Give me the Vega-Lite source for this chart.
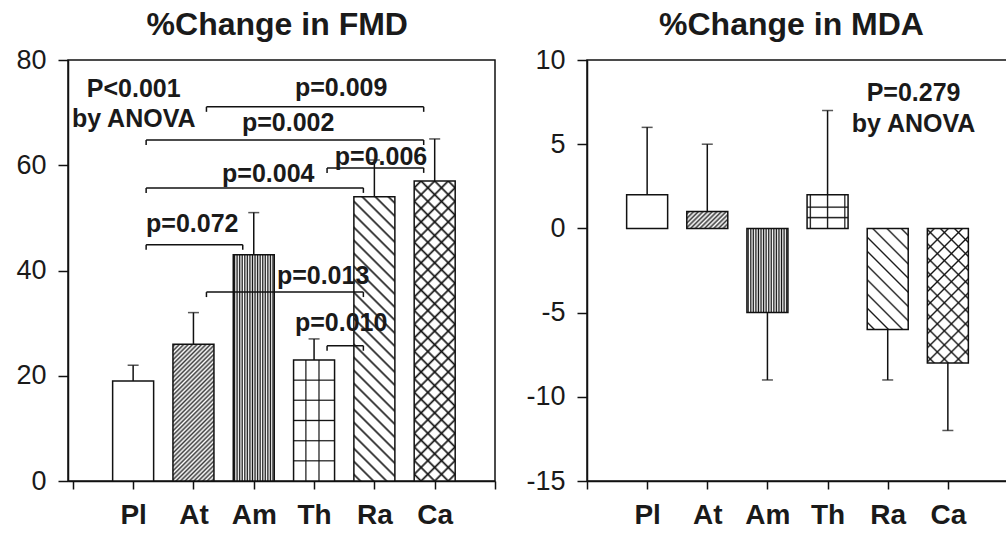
{
"$schema": "https://vega.github.io/schema/vega-lite/v6.json",
"autosize": {"type": "none"},
"padding": {"left": 68, "top": 60, "right": 938, "bottom": 473},
"bounds": "flush",
"spacing": 92,
"datasets": {
"fmd": [{"g":"Pl","pos":1,"v":19,"err":22},{"g":"At","pos":2,"v":26,"err":32},{"g":"Am","pos":3,"v":43,"err":51},{"g":"Th","pos":4,"v":23,"err":27},{"g":"Ra","pos":5,"v":54,"err":61},{"g":"Ca","pos":6,"v":57,"err":65}],
"mda": [{"g":"Pl","pos":1,"v":2,"err":6},{"g":"At","pos":2,"v":1,"err":5},{"g":"Am","pos":3,"v":-5,"err":-9},{"g":"Th","pos":4,"v":2,"err":7},{"g":"Ra","pos":5,"v":-6,"err":-9},{"g":"Ca","pos":6,"v":-8,"err":-12}],
"brk": [{"a":2,"b":6,"y":71.1,"label":"p=0.009","tx":4.45,"ty":73.2},{"a":1,"b":6,"y":64.8,"label":"p=0.002","tx":3.57,"ty":66.5},{"a":4,"b":6,"y":59.5,"label":"p=0.006","tx":5.11,"ty":60.1},{"a":1,"b":5,"y":55.7,"label":"p=0.004","tx":3.24,"ty":56.8},{"a":1,"b":3,"y":44.9,"label":"p=0.072","tx":1.98,"ty":47.3},{"a":2,"b":5,"y":35.9,"label":"p=0.013","tx":4.15,"ty":37.5},{"a":4,"b":5,"y":25.7,"label":"p=0.010","tx":4.45,"ty":28.5}],
"ann": [{"panel":"L","tx":1.01,"ty":73.0,"label":"P<0.001"},{"panel":"L","tx":1.01,"ty":67.3,"label":"by ANOVA"},{"panel":"R","tx":5.43,"ty":7.57,"label":"P=0.279"},{"panel":"R","tx":5.43,"ty":5.72,"label":"by ANOVA"}],
"ttl": [{"panel":"L","tx":3.39,"ty":84.75,"label":"%Change in FMD"},{"panel":"R","tx":3.4,"ty":11.48,"label":"%Change in MDA"}]
},
"hconcat": [
{
"width": 427, "height": 421,
"encoding": {
"x": {"field": "pos", "type": "quantitative", "scale": {"domain": [-0.08, 7], "nice": false, "zero": false}, "axis": {"title": null, "values": [0,1,2,3,4,5,6,7], "labelExpr": "datum.value==1?'Pl':datum.value==2?'At':datum.value==3?'Am':datum.value==4?'Th':datum.value==5?'Ra':datum.value==6?'Ca':''", "labelFontSize": 28, "labelFontWeight": "bold", "tickSize": 8, "labelPadding": 12, "labelFlush": false, "labelOverlap": false}},
"y": {"field": "v", "type": "quantitative", "scale": {"domain": [0, 80], "nice": false}, "axis": {"title": null, "values": [0,20,40,60,80], "labelFontSize": 27, "tickSize": 10, "labelPadding": 12}}
},
"layer": [
{"data": {"name": "fmd"}, "mark": {"type": "bar", "orient": "vertical", "width": 41, "fill": "white"}},
{"data": {"name": "fmd"}, "transform": [{"filter": "datum.g=='At'"}], "mark": {"type": "bar", "orient": "vertical", "width": 41, "fill": {"gradient": "linear", "x1": 0, "y1": 0, "x2": 0.357, "y2": 1.192, "stops": [
{"offset":0,"color":"rgba(60,60,60,0)"},{"offset":0.0125,"color":"#3c3c3c"},{"offset":0.025,"color":"rgba(60,60,60,0)"},{"offset":0.0375,"color":"#3c3c3c"},{"offset":0.05,"color":"rgba(60,60,60,0)"},{"offset":0.0625,"color":"#3c3c3c"},{"offset":0.075,"color":"rgba(60,60,60,0)"},{"offset":0.0875,"color":"#3c3c3c"},{"offset":0.1,"color":"rgba(60,60,60,0)"},{"offset":0.1125,"color":"#3c3c3c"},{"offset":0.125,"color":"rgba(60,60,60,0)"},{"offset":0.1375,"color":"#3c3c3c"},{"offset":0.15,"color":"rgba(60,60,60,0)"},{"offset":0.1625,"color":"#3c3c3c"},{"offset":0.175,"color":"rgba(60,60,60,0)"},{"offset":0.1875,"color":"#3c3c3c"},{"offset":0.2,"color":"rgba(60,60,60,0)"},{"offset":0.2125,"color":"#3c3c3c"},{"offset":0.225,"color":"rgba(60,60,60,0)"},{"offset":0.2375,"color":"#3c3c3c"},{"offset":0.25,"color":"rgba(60,60,60,0)"},{"offset":0.2625,"color":"#3c3c3c"},{"offset":0.275,"color":"rgba(60,60,60,0)"},{"offset":0.2875,"color":"#3c3c3c"},{"offset":0.3,"color":"rgba(60,60,60,0)"},{"offset":0.3125,"color":"#3c3c3c"},{"offset":0.325,"color":"rgba(60,60,60,0)"},{"offset":0.3375,"color":"#3c3c3c"},{"offset":0.35,"color":"rgba(60,60,60,0)"},{"offset":0.3625,"color":"#3c3c3c"},{"offset":0.375,"color":"rgba(60,60,60,0)"},{"offset":0.3875,"color":"#3c3c3c"},{"offset":0.4,"color":"rgba(60,60,60,0)"},{"offset":0.4125,"color":"#3c3c3c"},{"offset":0.425,"color":"rgba(60,60,60,0)"},{"offset":0.4375,"color":"#3c3c3c"},{"offset":0.45,"color":"rgba(60,60,60,0)"},{"offset":0.4625,"color":"#3c3c3c"},{"offset":0.475,"color":"rgba(60,60,60,0)"},{"offset":0.4875,"color":"#3c3c3c"},{"offset":0.5,"color":"rgba(60,60,60,0)"},{"offset":0.5125,"color":"#3c3c3c"},{"offset":0.525,"color":"rgba(60,60,60,0)"},{"offset":0.5375,"color":"#3c3c3c"},{"offset":0.55,"color":"rgba(60,60,60,0)"},{"offset":0.5625,"color":"#3c3c3c"},{"offset":0.575,"color":"rgba(60,60,60,0)"},{"offset":0.5875,"color":"#3c3c3c"},{"offset":0.6,"color":"rgba(60,60,60,0)"},{"offset":0.6125,"color":"#3c3c3c"},{"offset":0.625,"color":"rgba(60,60,60,0)"},{"offset":0.6375,"color":"#3c3c3c"},{"offset":0.65,"color":"rgba(60,60,60,0)"},{"offset":0.6625,"color":"#3c3c3c"},{"offset":0.675,"color":"rgba(60,60,60,0)"},{"offset":0.6875,"color":"#3c3c3c"},{"offset":0.7,"color":"rgba(60,60,60,0)"},{"offset":0.7125,"color":"#3c3c3c"},{"offset":0.725,"color":"rgba(60,60,60,0)"},{"offset":0.7375,"color":"#3c3c3c"},{"offset":0.75,"color":"rgba(60,60,60,0)"},{"offset":0.7625,"color":"#3c3c3c"},{"offset":0.775,"color":"rgba(60,60,60,0)"},{"offset":0.7875,"color":"#3c3c3c"},{"offset":0.8,"color":"rgba(60,60,60,0)"},{"offset":0.8125,"color":"#3c3c3c"},{"offset":0.825,"color":"rgba(60,60,60,0)"},{"offset":0.8375,"color":"#3c3c3c"},{"offset":0.85,"color":"rgba(60,60,60,0)"},{"offset":0.8625,"color":"#3c3c3c"},{"offset":0.875,"color":"rgba(60,60,60,0)"},{"offset":0.8875,"color":"#3c3c3c"},{"offset":0.9,"color":"rgba(60,60,60,0)"},{"offset":0.9125,"color":"#3c3c3c"},{"offset":0.925,"color":"rgba(60,60,60,0)"},{"offset":0.9375,"color":"#3c3c3c"},{"offset":0.95,"color":"rgba(60,60,60,0)"},{"offset":0.9625,"color":"#3c3c3c"},{"offset":0.975,"color":"rgba(60,60,60,0)"},{"offset":0.9875,"color":"#3c3c3c"},{"offset":1,"color":"rgba(60,60,60,0)"}]}}},
{"data": {"name": "fmd"}, "transform": [{"filter": "datum.g=='Am'"}], "mark": {"type": "bar", "orient": "vertical", "width": 41, "fill": {"gradient": "linear", "x1": 0, "y1": 0, "x2": 1, "y2": 0, "stops": [
{"offset":0,"color":"rgba(17,17,17,0)"},{"offset":0.03125,"color":"#111"},{"offset":0.0625,"color":"rgba(17,17,17,0)"},{"offset":0.09375,"color":"#111"},{"offset":0.125,"color":"rgba(17,17,17,0)"},{"offset":0.15625,"color":"#111"},{"offset":0.1875,"color":"rgba(17,17,17,0)"},{"offset":0.21875,"color":"#111"},{"offset":0.25,"color":"rgba(17,17,17,0)"},{"offset":0.28125,"color":"#111"},{"offset":0.3125,"color":"rgba(17,17,17,0)"},{"offset":0.34375,"color":"#111"},{"offset":0.375,"color":"rgba(17,17,17,0)"},{"offset":0.40625,"color":"#111"},{"offset":0.4375,"color":"rgba(17,17,17,0)"},{"offset":0.46875,"color":"#111"},{"offset":0.5,"color":"rgba(17,17,17,0)"},{"offset":0.53125,"color":"#111"},{"offset":0.5625,"color":"rgba(17,17,17,0)"},{"offset":0.59375,"color":"#111"},{"offset":0.625,"color":"rgba(17,17,17,0)"},{"offset":0.65625,"color":"#111"},{"offset":0.6875,"color":"rgba(17,17,17,0)"},{"offset":0.71875,"color":"#111"},{"offset":0.75,"color":"rgba(17,17,17,0)"},{"offset":0.78125,"color":"#111"},{"offset":0.8125,"color":"rgba(17,17,17,0)"},{"offset":0.84375,"color":"#111"},{"offset":0.875,"color":"rgba(17,17,17,0)"},{"offset":0.90625,"color":"#111"},{"offset":0.9375,"color":"rgba(17,17,17,0)"},{"offset":0.96875,"color":"#111"},{"offset":1,"color":"rgba(17,17,17,0)"}]}}},
{"data": {"name": "fmd"}, "transform": [{"filter": "datum.g=='Th'"}], "mark": {"type": "bar", "orient": "vertical", "width": 41, "fill": {"gradient": "linear", "x1": 0, "y1": 0, "x2": 1, "y2": 0, "stops": [
{"offset":0.27,"color":"rgba(17,17,17,0)"},{"offset":0.3,"color":"#111"},{"offset":0.33,"color":"rgba(17,17,17,0)"},{"offset":0.59,"color":"rgba(17,17,17,0)"},{"offset":0.62,"color":"#111"},{"offset":0.65,"color":"rgba(17,17,17,0)"}]}}},
{"data": {"name": "fmd"}, "transform": [{"filter": "datum.g=='Th'"}], "mark": {"type": "bar", "orient": "vertical", "width": 41, "fill": {"gradient": "linear", "x1": 0, "y1": 0, "x2": 0, "y2": 1, "stops": [
{"offset":0.157,"color":"rgba(17,17,17,0)"},{"offset":0.167,"color":"#111"},{"offset":0.177,"color":"rgba(17,17,17,0)"},{"offset":0.323,"color":"rgba(17,17,17,0)"},{"offset":0.333,"color":"#111"},{"offset":0.343,"color":"rgba(17,17,17,0)"},{"offset":0.49,"color":"rgba(17,17,17,0)"},{"offset":0.5,"color":"#111"},{"offset":0.51,"color":"rgba(17,17,17,0)"},{"offset":0.657,"color":"rgba(17,17,17,0)"},{"offset":0.667,"color":"#111"},{"offset":0.677,"color":"rgba(17,17,17,0)"},{"offset":0.823,"color":"rgba(17,17,17,0)"},{"offset":0.833,"color":"#111"},{"offset":0.843,"color":"rgba(17,17,17,0)"}]}}},
{"data": {"name": "fmd"}, "transform": [{"filter": "datum.g=='Ra'"}], "mark": {"type": "bar", "orient": "vertical", "width": 41, "fill": {"gradient": "linear", "x1": 0, "y1": 1, "x2": 0.161, "y2": -0.121, "stops": [
{"offset":0.013,"color":"rgba(17,17,17,0)"},{"offset":0.02,"color":"#111"},{"offset":0.027,"color":"rgba(17,17,17,0)"},{"offset":0.053,"color":"rgba(17,17,17,0)"},{"offset":0.06,"color":"#111"},{"offset":0.067,"color":"rgba(17,17,17,0)"},{"offset":0.093,"color":"rgba(17,17,17,0)"},{"offset":0.1,"color":"#111"},{"offset":0.107,"color":"rgba(17,17,17,0)"},{"offset":0.133,"color":"rgba(17,17,17,0)"},{"offset":0.14,"color":"#111"},{"offset":0.147,"color":"rgba(17,17,17,0)"},{"offset":0.173,"color":"rgba(17,17,17,0)"},{"offset":0.18,"color":"#111"},{"offset":0.187,"color":"rgba(17,17,17,0)"},{"offset":0.213,"color":"rgba(17,17,17,0)"},{"offset":0.22,"color":"#111"},{"offset":0.227,"color":"rgba(17,17,17,0)"},{"offset":0.253,"color":"rgba(17,17,17,0)"},{"offset":0.26,"color":"#111"},{"offset":0.267,"color":"rgba(17,17,17,0)"},{"offset":0.293,"color":"rgba(17,17,17,0)"},{"offset":0.3,"color":"#111"},{"offset":0.307,"color":"rgba(17,17,17,0)"},{"offset":0.333,"color":"rgba(17,17,17,0)"},{"offset":0.34,"color":"#111"},{"offset":0.347,"color":"rgba(17,17,17,0)"},{"offset":0.373,"color":"rgba(17,17,17,0)"},{"offset":0.38,"color":"#111"},{"offset":0.387,"color":"rgba(17,17,17,0)"},{"offset":0.413,"color":"rgba(17,17,17,0)"},{"offset":0.42,"color":"#111"},{"offset":0.427,"color":"rgba(17,17,17,0)"},{"offset":0.453,"color":"rgba(17,17,17,0)"},{"offset":0.46,"color":"#111"},{"offset":0.467,"color":"rgba(17,17,17,0)"},{"offset":0.493,"color":"rgba(17,17,17,0)"},{"offset":0.5,"color":"#111"},{"offset":0.507,"color":"rgba(17,17,17,0)"},{"offset":0.533,"color":"rgba(17,17,17,0)"},{"offset":0.54,"color":"#111"},{"offset":0.547,"color":"rgba(17,17,17,0)"},{"offset":0.573,"color":"rgba(17,17,17,0)"},{"offset":0.58,"color":"#111"},{"offset":0.587,"color":"rgba(17,17,17,0)"},{"offset":0.613,"color":"rgba(17,17,17,0)"},{"offset":0.62,"color":"#111"},{"offset":0.627,"color":"rgba(17,17,17,0)"},{"offset":0.653,"color":"rgba(17,17,17,0)"},{"offset":0.66,"color":"#111"},{"offset":0.667,"color":"rgba(17,17,17,0)"},{"offset":0.693,"color":"rgba(17,17,17,0)"},{"offset":0.7,"color":"#111"},{"offset":0.707,"color":"rgba(17,17,17,0)"},{"offset":0.733,"color":"rgba(17,17,17,0)"},{"offset":0.74,"color":"#111"},{"offset":0.747,"color":"rgba(17,17,17,0)"},{"offset":0.773,"color":"rgba(17,17,17,0)"},{"offset":0.78,"color":"#111"},{"offset":0.787,"color":"rgba(17,17,17,0)"},{"offset":0.813,"color":"rgba(17,17,17,0)"},{"offset":0.82,"color":"#111"},{"offset":0.827,"color":"rgba(17,17,17,0)"},{"offset":0.853,"color":"rgba(17,17,17,0)"},{"offset":0.86,"color":"#111"},{"offset":0.867,"color":"rgba(17,17,17,0)"},{"offset":0.893,"color":"rgba(17,17,17,0)"},{"offset":0.9,"color":"#111"},{"offset":0.907,"color":"rgba(17,17,17,0)"},{"offset":0.933,"color":"rgba(17,17,17,0)"},{"offset":0.94,"color":"#111"},{"offset":0.947,"color":"rgba(17,17,17,0)"},{"offset":0.973,"color":"rgba(17,17,17,0)"},{"offset":0.98,"color":"#111"},{"offset":0.987,"color":"rgba(17,17,17,0)"}]}}},
{"data": {"name": "fmd"}, "transform": [{"filter": "datum.g=='Ca'"}], "mark": {"type": "bar", "orient": "vertical", "width": 41, "fill": {"gradient": "linear", "x1": 0, "y1": 1, "x2": 0.153, "y2": -0.116, "stops": [
{"offset":0.013,"color":"rgba(17,17,17,0)"},{"offset":0.02,"color":"#111"},{"offset":0.027,"color":"rgba(17,17,17,0)"},{"offset":0.053,"color":"rgba(17,17,17,0)"},{"offset":0.06,"color":"#111"},{"offset":0.067,"color":"rgba(17,17,17,0)"},{"offset":0.093,"color":"rgba(17,17,17,0)"},{"offset":0.1,"color":"#111"},{"offset":0.107,"color":"rgba(17,17,17,0)"},{"offset":0.133,"color":"rgba(17,17,17,0)"},{"offset":0.14,"color":"#111"},{"offset":0.147,"color":"rgba(17,17,17,0)"},{"offset":0.173,"color":"rgba(17,17,17,0)"},{"offset":0.18,"color":"#111"},{"offset":0.187,"color":"rgba(17,17,17,0)"},{"offset":0.213,"color":"rgba(17,17,17,0)"},{"offset":0.22,"color":"#111"},{"offset":0.227,"color":"rgba(17,17,17,0)"},{"offset":0.253,"color":"rgba(17,17,17,0)"},{"offset":0.26,"color":"#111"},{"offset":0.267,"color":"rgba(17,17,17,0)"},{"offset":0.293,"color":"rgba(17,17,17,0)"},{"offset":0.3,"color":"#111"},{"offset":0.307,"color":"rgba(17,17,17,0)"},{"offset":0.333,"color":"rgba(17,17,17,0)"},{"offset":0.34,"color":"#111"},{"offset":0.347,"color":"rgba(17,17,17,0)"},{"offset":0.373,"color":"rgba(17,17,17,0)"},{"offset":0.38,"color":"#111"},{"offset":0.387,"color":"rgba(17,17,17,0)"},{"offset":0.413,"color":"rgba(17,17,17,0)"},{"offset":0.42,"color":"#111"},{"offset":0.427,"color":"rgba(17,17,17,0)"},{"offset":0.453,"color":"rgba(17,17,17,0)"},{"offset":0.46,"color":"#111"},{"offset":0.467,"color":"rgba(17,17,17,0)"},{"offset":0.493,"color":"rgba(17,17,17,0)"},{"offset":0.5,"color":"#111"},{"offset":0.507,"color":"rgba(17,17,17,0)"},{"offset":0.533,"color":"rgba(17,17,17,0)"},{"offset":0.54,"color":"#111"},{"offset":0.547,"color":"rgba(17,17,17,0)"},{"offset":0.573,"color":"rgba(17,17,17,0)"},{"offset":0.58,"color":"#111"},{"offset":0.587,"color":"rgba(17,17,17,0)"},{"offset":0.613,"color":"rgba(17,17,17,0)"},{"offset":0.62,"color":"#111"},{"offset":0.627,"color":"rgba(17,17,17,0)"},{"offset":0.653,"color":"rgba(17,17,17,0)"},{"offset":0.66,"color":"#111"},{"offset":0.667,"color":"rgba(17,17,17,0)"},{"offset":0.693,"color":"rgba(17,17,17,0)"},{"offset":0.7,"color":"#111"},{"offset":0.707,"color":"rgba(17,17,17,0)"},{"offset":0.733,"color":"rgba(17,17,17,0)"},{"offset":0.74,"color":"#111"},{"offset":0.747,"color":"rgba(17,17,17,0)"},{"offset":0.773,"color":"rgba(17,17,17,0)"},{"offset":0.78,"color":"#111"},{"offset":0.787,"color":"rgba(17,17,17,0)"},{"offset":0.813,"color":"rgba(17,17,17,0)"},{"offset":0.82,"color":"#111"},{"offset":0.827,"color":"rgba(17,17,17,0)"},{"offset":0.853,"color":"rgba(17,17,17,0)"},{"offset":0.86,"color":"#111"},{"offset":0.867,"color":"rgba(17,17,17,0)"},{"offset":0.893,"color":"rgba(17,17,17,0)"},{"offset":0.9,"color":"#111"},{"offset":0.907,"color":"rgba(17,17,17,0)"},{"offset":0.933,"color":"rgba(17,17,17,0)"},{"offset":0.94,"color":"#111"},{"offset":0.947,"color":"rgba(17,17,17,0)"},{"offset":0.973,"color":"rgba(17,17,17,0)"},{"offset":0.98,"color":"#111"},{"offset":0.987,"color":"rgba(17,17,17,0)"}]}}},
{"data": {"name": "fmd"}, "transform": [{"filter": "datum.g=='Ca'"}], "mark": {"type": "bar", "orient": "vertical", "width": 41, "fill": {"gradient": "linear", "x1": 0, "y1": 0, "x2": 0.153, "y2": 1.116, "stops": [
{"offset":0.013,"color":"rgba(17,17,17,0)"},{"offset":0.02,"color":"#111"},{"offset":0.027,"color":"rgba(17,17,17,0)"},{"offset":0.053,"color":"rgba(17,17,17,0)"},{"offset":0.06,"color":"#111"},{"offset":0.067,"color":"rgba(17,17,17,0)"},{"offset":0.093,"color":"rgba(17,17,17,0)"},{"offset":0.1,"color":"#111"},{"offset":0.107,"color":"rgba(17,17,17,0)"},{"offset":0.133,"color":"rgba(17,17,17,0)"},{"offset":0.14,"color":"#111"},{"offset":0.147,"color":"rgba(17,17,17,0)"},{"offset":0.173,"color":"rgba(17,17,17,0)"},{"offset":0.18,"color":"#111"},{"offset":0.187,"color":"rgba(17,17,17,0)"},{"offset":0.213,"color":"rgba(17,17,17,0)"},{"offset":0.22,"color":"#111"},{"offset":0.227,"color":"rgba(17,17,17,0)"},{"offset":0.253,"color":"rgba(17,17,17,0)"},{"offset":0.26,"color":"#111"},{"offset":0.267,"color":"rgba(17,17,17,0)"},{"offset":0.293,"color":"rgba(17,17,17,0)"},{"offset":0.3,"color":"#111"},{"offset":0.307,"color":"rgba(17,17,17,0)"},{"offset":0.333,"color":"rgba(17,17,17,0)"},{"offset":0.34,"color":"#111"},{"offset":0.347,"color":"rgba(17,17,17,0)"},{"offset":0.373,"color":"rgba(17,17,17,0)"},{"offset":0.38,"color":"#111"},{"offset":0.387,"color":"rgba(17,17,17,0)"},{"offset":0.413,"color":"rgba(17,17,17,0)"},{"offset":0.42,"color":"#111"},{"offset":0.427,"color":"rgba(17,17,17,0)"},{"offset":0.453,"color":"rgba(17,17,17,0)"},{"offset":0.46,"color":"#111"},{"offset":0.467,"color":"rgba(17,17,17,0)"},{"offset":0.493,"color":"rgba(17,17,17,0)"},{"offset":0.5,"color":"#111"},{"offset":0.507,"color":"rgba(17,17,17,0)"},{"offset":0.533,"color":"rgba(17,17,17,0)"},{"offset":0.54,"color":"#111"},{"offset":0.547,"color":"rgba(17,17,17,0)"},{"offset":0.573,"color":"rgba(17,17,17,0)"},{"offset":0.58,"color":"#111"},{"offset":0.587,"color":"rgba(17,17,17,0)"},{"offset":0.613,"color":"rgba(17,17,17,0)"},{"offset":0.62,"color":"#111"},{"offset":0.627,"color":"rgba(17,17,17,0)"},{"offset":0.653,"color":"rgba(17,17,17,0)"},{"offset":0.66,"color":"#111"},{"offset":0.667,"color":"rgba(17,17,17,0)"},{"offset":0.693,"color":"rgba(17,17,17,0)"},{"offset":0.7,"color":"#111"},{"offset":0.707,"color":"rgba(17,17,17,0)"},{"offset":0.733,"color":"rgba(17,17,17,0)"},{"offset":0.74,"color":"#111"},{"offset":0.747,"color":"rgba(17,17,17,0)"},{"offset":0.773,"color":"rgba(17,17,17,0)"},{"offset":0.78,"color":"#111"},{"offset":0.787,"color":"rgba(17,17,17,0)"},{"offset":0.813,"color":"rgba(17,17,17,0)"},{"offset":0.82,"color":"#111"},{"offset":0.827,"color":"rgba(17,17,17,0)"},{"offset":0.853,"color":"rgba(17,17,17,0)"},{"offset":0.86,"color":"#111"},{"offset":0.867,"color":"rgba(17,17,17,0)"},{"offset":0.893,"color":"rgba(17,17,17,0)"},{"offset":0.9,"color":"#111"},{"offset":0.907,"color":"rgba(17,17,17,0)"},{"offset":0.933,"color":"rgba(17,17,17,0)"},{"offset":0.94,"color":"#111"},{"offset":0.947,"color":"rgba(17,17,17,0)"},{"offset":0.973,"color":"rgba(17,17,17,0)"},{"offset":0.98,"color":"#111"},{"offset":0.987,"color":"rgba(17,17,17,0)"}]}}},
{"data": {"name": "fmd"}, "mark": {"type": "bar", "orient": "vertical", "width": 41, "fillOpacity": 0, "stroke": "#111", "strokeWidth": 1.5}},
{"data": {"name": "fmd"}, "mark": {"type": "rule", "color": "#111", "strokeWidth": 1.5}, "encoding": {"y2": {"field": "err"}}},
{"data": {"name": "fmd"}, "mark": {"type": "tick", "orient": "horizontal", "size": 11, "thickness": 1.5, "color": "#111"}, "encoding": {"y": {"field": "err", "type": "quantitative"}}},
{"data": {"name": "brk"}, "mark": {"type": "rule", "color": "#111", "strokeWidth": 1.5, "xOffset": 13, "x2Offset": -11}, "encoding": {"x": {"field": "a", "type": "quantitative"}, "x2": {"field": "b"}, "y": {"field": "y", "type": "quantitative"}}},
{"data": {"name": "brk"}, "mark": {"type": "rule", "color": "#111", "strokeWidth": 1.5, "xOffset": 13, "y2Offset": 5}, "encoding": {"x": {"field": "a", "type": "quantitative"}, "y": {"field": "y", "type": "quantitative"}, "y2": {"field": "y"}}},
{"data": {"name": "brk"}, "mark": {"type": "rule", "color": "#111", "strokeWidth": 1.5, "xOffset": -11, "y2Offset": 5}, "encoding": {"x": {"field": "b", "type": "quantitative"}, "y": {"field": "y", "type": "quantitative"}, "y2": {"field": "y"}}},
{"data": {"name": "brk"}, "mark": {"type": "text", "fontSize": 25, "fontWeight": "bold", "baseline": "alphabetic", "align": "center", "color": "#1a1a1a"}, "encoding": {"x": {"field": "tx", "type": "quantitative"}, "y": {"field": "ty", "type": "quantitative"}, "text": {"field": "label"}}},
{"data": {"name": "ann"}, "transform": [{"filter": "datum.panel=='L'"}], "mark": {"type": "text", "fontSize": 25, "fontWeight": "bold", "baseline": "alphabetic", "align": "center", "color": "#1a1a1a"}, "encoding": {"x": {"field": "tx", "type": "quantitative"}, "y": {"field": "ty", "type": "quantitative"}, "text": {"field": "label"}}},
{"data": {"name": "ttl"}, "transform": [{"filter": "datum.panel=='L'"}], "mark": {"type": "text", "fontSize": 32, "fontWeight": "bold", "baseline": "alphabetic", "align": "center", "color": "#1a1a1a"}, "encoding": {"x": {"field": "tx", "type": "quantitative"}, "y": {"field": "ty", "type": "quantitative"}, "text": {"field": "label"}}}
]
},
{
"width": 421, "height": 421,
"encoding": {
"x": {"field": "pos", "type": "quantitative", "scale": {"domain": [0, 7], "nice": false, "zero": false}, "axis": {"title": null, "values": [0,1,2,3,4,5,6,7], "labelExpr": "datum.value==1?'Pl':datum.value==2?'At':datum.value==3?'Am':datum.value==4?'Th':datum.value==5?'Ra':datum.value==6?'Ca':''", "labelFontSize": 28, "labelFontWeight": "bold", "tickSize": 8, "labelPadding": 12, "labelFlush": false, "labelOverlap": false}},
"y": {"field": "v", "type": "quantitative", "scale": {"domain": [-15, 10], "nice": false}, "axis": {"title": null, "values": [-15,-10,-5,0,5,10], "labelExpr": "'' + datum.value", "labelFontSize": 27, "tickSize": 10, "labelPadding": 12}}
},
"layer": [
{"data": {"name": "mda"}, "mark": {"type": "bar", "orient": "vertical", "width": 41, "fill": "white"}},
{"data": {"name": "mda"}, "transform": [{"filter": "datum.g=='At'"}], "mark": {"type": "bar", "orient": "vertical", "width": 41, "fill": {"gradient": "linear", "x1": 0, "y1": 0, "x2": 1.207, "y2": 0.501, "stops": [
{"offset":0,"color":"rgba(60,60,60,0)"},{"offset":0.04,"color":"#3c3c3c"},{"offset":0.08,"color":"rgba(60,60,60,0)"},{"offset":0.12,"color":"#3c3c3c"},{"offset":0.16,"color":"rgba(60,60,60,0)"},{"offset":0.2,"color":"#3c3c3c"},{"offset":0.24,"color":"rgba(60,60,60,0)"},{"offset":0.28,"color":"#3c3c3c"},{"offset":0.32,"color":"rgba(60,60,60,0)"},{"offset":0.36,"color":"#3c3c3c"},{"offset":0.4,"color":"rgba(60,60,60,0)"},{"offset":0.44,"color":"#3c3c3c"},{"offset":0.48,"color":"rgba(60,60,60,0)"},{"offset":0.52,"color":"#3c3c3c"},{"offset":0.56,"color":"rgba(60,60,60,0)"},{"offset":0.6,"color":"#3c3c3c"},{"offset":0.64,"color":"rgba(60,60,60,0)"},{"offset":0.68,"color":"#3c3c3c"},{"offset":0.72,"color":"rgba(60,60,60,0)"},{"offset":0.76,"color":"#3c3c3c"},{"offset":0.8,"color":"rgba(60,60,60,0)"},{"offset":0.84,"color":"#3c3c3c"},{"offset":0.88,"color":"rgba(60,60,60,0)"},{"offset":0.92,"color":"#3c3c3c"},{"offset":0.96,"color":"rgba(60,60,60,0)"},{"offset":1,"color":"#3c3c3c"}]}}},
{"data": {"name": "mda"}, "transform": [{"filter": "datum.g=='Am'"}], "mark": {"type": "bar", "orient": "vertical", "width": 41, "fill": {"gradient": "linear", "x1": 0, "y1": 0, "x2": 1, "y2": 0, "stops": [
{"offset":0,"color":"rgba(17,17,17,0)"},{"offset":0.03125,"color":"#111"},{"offset":0.0625,"color":"rgba(17,17,17,0)"},{"offset":0.09375,"color":"#111"},{"offset":0.125,"color":"rgba(17,17,17,0)"},{"offset":0.15625,"color":"#111"},{"offset":0.1875,"color":"rgba(17,17,17,0)"},{"offset":0.21875,"color":"#111"},{"offset":0.25,"color":"rgba(17,17,17,0)"},{"offset":0.28125,"color":"#111"},{"offset":0.3125,"color":"rgba(17,17,17,0)"},{"offset":0.34375,"color":"#111"},{"offset":0.375,"color":"rgba(17,17,17,0)"},{"offset":0.40625,"color":"#111"},{"offset":0.4375,"color":"rgba(17,17,17,0)"},{"offset":0.46875,"color":"#111"},{"offset":0.5,"color":"rgba(17,17,17,0)"},{"offset":0.53125,"color":"#111"},{"offset":0.5625,"color":"rgba(17,17,17,0)"},{"offset":0.59375,"color":"#111"},{"offset":0.625,"color":"rgba(17,17,17,0)"},{"offset":0.65625,"color":"#111"},{"offset":0.6875,"color":"rgba(17,17,17,0)"},{"offset":0.71875,"color":"#111"},{"offset":0.75,"color":"rgba(17,17,17,0)"},{"offset":0.78125,"color":"#111"},{"offset":0.8125,"color":"rgba(17,17,17,0)"},{"offset":0.84375,"color":"#111"},{"offset":0.875,"color":"rgba(17,17,17,0)"},{"offset":0.90625,"color":"#111"},{"offset":0.9375,"color":"rgba(17,17,17,0)"},{"offset":0.96875,"color":"#111"},{"offset":1,"color":"rgba(17,17,17,0)"}]}}},
{"data": {"name": "mda"}, "transform": [{"filter": "datum.g=='Th'"}], "mark": {"type": "bar", "orient": "vertical", "width": 41, "fill": {"gradient": "linear", "x1": 0, "y1": 0, "x2": 1, "y2": 0, "stops": [
{"offset":0.05,"color":"rgba(17,17,17,0)"},{"offset":0.08,"color":"#111"},{"offset":0.11,"color":"rgba(17,17,17,0)"},{"offset":0.47,"color":"rgba(17,17,17,0)"},{"offset":0.5,"color":"#111"},{"offset":0.53,"color":"rgba(17,17,17,0)"},{"offset":0.89,"color":"rgba(17,17,17,0)"},{"offset":0.92,"color":"#111"},{"offset":0.95,"color":"rgba(17,17,17,0)"}]}}},
{"data": {"name": "mda"}, "transform": [{"filter": "datum.g=='Th'"}], "mark": {"type": "bar", "orient": "vertical", "width": 41, "fill": {"gradient": "linear", "x1": 0, "y1": 0, "x2": 0, "y2": 1, "stops": [
{"offset":0.33,"color":"rgba(17,17,17,0)"},{"offset":0.37,"color":"#111"},{"offset":0.41,"color":"rgba(17,17,17,0)"},{"offset":0.64,"color":"rgba(17,17,17,0)"},{"offset":0.68,"color":"#111"},{"offset":0.72,"color":"rgba(17,17,17,0)"}]}}},
{"data": {"name": "mda"}, "transform": [{"filter": "datum.g=='Ra'"}], "mark": {"type": "bar", "orient": "vertical", "width": 41, "fill": {"gradient": "linear", "x1": 0, "y1": 1, "x2": 0.49, "y2": -0.207, "stops": [
{"offset":0.037,"color":"rgba(17,17,17,0)"},{"offset":0.05,"color":"#111"},{"offset":0.063,"color":"rgba(17,17,17,0)"},{"offset":0.137,"color":"rgba(17,17,17,0)"},{"offset":0.15,"color":"#111"},{"offset":0.163,"color":"rgba(17,17,17,0)"},{"offset":0.237,"color":"rgba(17,17,17,0)"},{"offset":0.25,"color":"#111"},{"offset":0.263,"color":"rgba(17,17,17,0)"},{"offset":0.337,"color":"rgba(17,17,17,0)"},{"offset":0.35,"color":"#111"},{"offset":0.363,"color":"rgba(17,17,17,0)"},{"offset":0.437,"color":"rgba(17,17,17,0)"},{"offset":0.45,"color":"#111"},{"offset":0.463,"color":"rgba(17,17,17,0)"},{"offset":0.537,"color":"rgba(17,17,17,0)"},{"offset":0.55,"color":"#111"},{"offset":0.563,"color":"rgba(17,17,17,0)"},{"offset":0.637,"color":"rgba(17,17,17,0)"},{"offset":0.65,"color":"#111"},{"offset":0.663,"color":"rgba(17,17,17,0)"},{"offset":0.737,"color":"rgba(17,17,17,0)"},{"offset":0.75,"color":"#111"},{"offset":0.763,"color":"rgba(17,17,17,0)"},{"offset":0.837,"color":"rgba(17,17,17,0)"},{"offset":0.85,"color":"#111"},{"offset":0.863,"color":"rgba(17,17,17,0)"},{"offset":0.937,"color":"rgba(17,17,17,0)"},{"offset":0.95,"color":"#111"},{"offset":0.963,"color":"rgba(17,17,17,0)"}]}}},
{"data": {"name": "mda"}, "transform": [{"filter": "datum.g=='Ca'"}], "mark": {"type": "bar", "orient": "vertical", "width": 41, "fill": {"gradient": "linear", "x1": 0, "y1": 0, "x2": 0.363, "y2": 1.194, "stops": [
{"offset":0.029,"color":"rgba(17,17,17,0)"},{"offset":0.04,"color":"#111"},{"offset":0.051,"color":"rgba(17,17,17,0)"},{"offset":0.109,"color":"rgba(17,17,17,0)"},{"offset":0.12,"color":"#111"},{"offset":0.131,"color":"rgba(17,17,17,0)"},{"offset":0.189,"color":"rgba(17,17,17,0)"},{"offset":0.2,"color":"#111"},{"offset":0.211,"color":"rgba(17,17,17,0)"},{"offset":0.269,"color":"rgba(17,17,17,0)"},{"offset":0.28,"color":"#111"},{"offset":0.291,"color":"rgba(17,17,17,0)"},{"offset":0.349,"color":"rgba(17,17,17,0)"},{"offset":0.36,"color":"#111"},{"offset":0.371,"color":"rgba(17,17,17,0)"},{"offset":0.429,"color":"rgba(17,17,17,0)"},{"offset":0.44,"color":"#111"},{"offset":0.451,"color":"rgba(17,17,17,0)"},{"offset":0.509,"color":"rgba(17,17,17,0)"},{"offset":0.52,"color":"#111"},{"offset":0.531,"color":"rgba(17,17,17,0)"},{"offset":0.589,"color":"rgba(17,17,17,0)"},{"offset":0.6,"color":"#111"},{"offset":0.611,"color":"rgba(17,17,17,0)"},{"offset":0.669,"color":"rgba(17,17,17,0)"},{"offset":0.68,"color":"#111"},{"offset":0.691,"color":"rgba(17,17,17,0)"},{"offset":0.749,"color":"rgba(17,17,17,0)"},{"offset":0.76,"color":"#111"},{"offset":0.771,"color":"rgba(17,17,17,0)"},{"offset":0.829,"color":"rgba(17,17,17,0)"},{"offset":0.84,"color":"#111"},{"offset":0.851,"color":"rgba(17,17,17,0)"},{"offset":0.909,"color":"rgba(17,17,17,0)"},{"offset":0.92,"color":"#111"},{"offset":0.931,"color":"rgba(17,17,17,0)"}]}}},
{"data": {"name": "mda"}, "transform": [{"filter": "datum.g=='Ca'"}], "mark": {"type": "bar", "orient": "vertical", "width": 41, "fill": {"gradient": "linear", "x1": 0, "y1": 1, "x2": 0.363, "y2": -0.194, "stops": [
{"offset":0.029,"color":"rgba(17,17,17,0)"},{"offset":0.04,"color":"#111"},{"offset":0.051,"color":"rgba(17,17,17,0)"},{"offset":0.109,"color":"rgba(17,17,17,0)"},{"offset":0.12,"color":"#111"},{"offset":0.131,"color":"rgba(17,17,17,0)"},{"offset":0.189,"color":"rgba(17,17,17,0)"},{"offset":0.2,"color":"#111"},{"offset":0.211,"color":"rgba(17,17,17,0)"},{"offset":0.269,"color":"rgba(17,17,17,0)"},{"offset":0.28,"color":"#111"},{"offset":0.291,"color":"rgba(17,17,17,0)"},{"offset":0.349,"color":"rgba(17,17,17,0)"},{"offset":0.36,"color":"#111"},{"offset":0.371,"color":"rgba(17,17,17,0)"},{"offset":0.429,"color":"rgba(17,17,17,0)"},{"offset":0.44,"color":"#111"},{"offset":0.451,"color":"rgba(17,17,17,0)"},{"offset":0.509,"color":"rgba(17,17,17,0)"},{"offset":0.52,"color":"#111"},{"offset":0.531,"color":"rgba(17,17,17,0)"},{"offset":0.589,"color":"rgba(17,17,17,0)"},{"offset":0.6,"color":"#111"},{"offset":0.611,"color":"rgba(17,17,17,0)"},{"offset":0.669,"color":"rgba(17,17,17,0)"},{"offset":0.68,"color":"#111"},{"offset":0.691,"color":"rgba(17,17,17,0)"},{"offset":0.749,"color":"rgba(17,17,17,0)"},{"offset":0.76,"color":"#111"},{"offset":0.771,"color":"rgba(17,17,17,0)"},{"offset":0.829,"color":"rgba(17,17,17,0)"},{"offset":0.84,"color":"#111"},{"offset":0.851,"color":"rgba(17,17,17,0)"},{"offset":0.909,"color":"rgba(17,17,17,0)"},{"offset":0.92,"color":"#111"},{"offset":0.931,"color":"rgba(17,17,17,0)"}]}}},
{"data": {"name": "mda"}, "mark": {"type": "bar", "orient": "vertical", "width": 41, "fillOpacity": 0, "stroke": "#111", "strokeWidth": 1.5}},
{"data": {"values": [{}]}, "mark": {"type": "rule", "color": "#111", "strokeWidth": 1.5}, "encoding": {"x": null, "y": {"datum": 0}}},
{"data": {"name": "mda"}, "mark": {"type": "rule", "color": "#111", "strokeWidth": 1.5}, "encoding": {"y2": {"field": "err"}}},
{"data": {"name": "mda"}, "mark": {"type": "tick", "orient": "horizontal", "size": 11, "thickness": 1.5, "color": "#111"}, "encoding": {"y": {"field": "err", "type": "quantitative"}}},
{"data": {"name": "ann"}, "transform": [{"filter": "datum.panel=='R'"}], "mark": {"type": "text", "fontSize": 25, "fontWeight": "bold", "baseline": "alphabetic", "align": "center", "color": "#1a1a1a"}, "encoding": {"x": {"field": "tx", "type": "quantitative"}, "y": {"field": "ty", "type": "quantitative"}, "text": {"field": "label"}}},
{"data": {"name": "ttl"}, "transform": [{"filter": "datum.panel=='R'"}], "mark": {"type": "text", "fontSize": 32, "fontWeight": "bold", "baseline": "alphabetic", "align": "center", "color": "#1a1a1a"}, "encoding": {"x": {"field": "tx", "type": "quantitative"}, "y": {"field": "ty", "type": "quantitative"}, "text": {"field": "label"}}}
]
}
],
"config": {
"font": "Liberation Sans",
"scale": {"continuousPadding": 0},
"view": {"stroke": "#111", "strokeWidth": 1.5},
"axis": {"grid": false, "domainColor": "#111", "domainWidth": 1.5, "tickColor": "#111", "tickWidth": 1.5, "labelColor": "#1a1a1a", "labelFont": "Liberation Sans"}
}
}
